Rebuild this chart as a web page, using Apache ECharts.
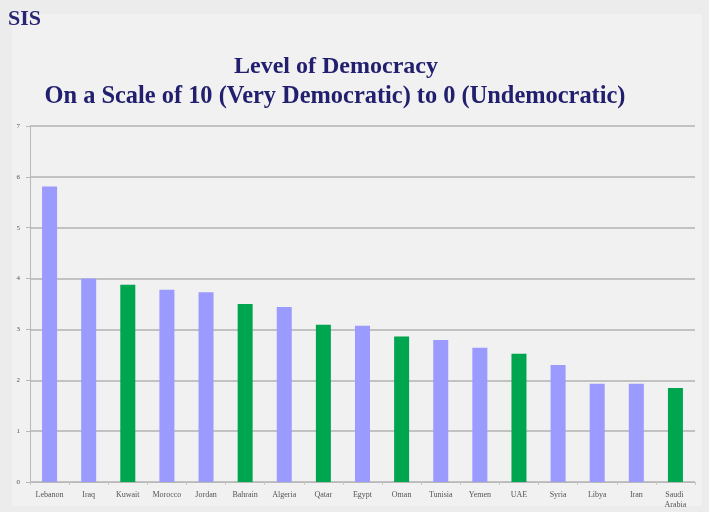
<!DOCTYPE html>
<html>
<head>
<meta charset="utf-8">
<script src="https://cdn.jsdelivr.net/npm/echarts@6/dist/echarts.min.js"></script>
<style>
  html, body { margin: 0; padding: 0; background: #ececec; }
  #chart { width: 709px; height: 512px; }
</style>
</head>
<body>
<div id="chart"></div>
<script>
// Democracy scores for Arab countries, 0 (undemocratic) to 10 (very democratic)
const countries = ['Lebanon', 'Iraq', 'Kuwait', 'Morocco', 'Jordan', 'Bahrain', 'Algeria', 'Qatar',
  'Egypt', 'Oman', 'Tunisia', 'Yemen', 'UAE', 'Syria', 'Libya', 'Iran', 'Saudi Arabia'];
const scores = [5.81, 4.0, 3.88, 3.78, 3.73, 3.5, 3.44, 3.09, 3.07, 2.86, 2.79, 2.64, 2.52, 2.3, 1.93, 1.93, 1.85];
// Gulf Cooperation Council members are drawn in green
const gulfStates = ['Kuwait', 'Bahrain', 'Qatar', 'Oman', 'UAE', 'Saudi Arabia'];
const yTicks = [0, 1, 2, 3, 4, 5, 6, 7];

const titleLines = ['Level of Democracy', 'On a Scale of 10 (Very Democratic) to 0 (Undemocratic)'];

const chart = echarts.init(document.getElementById('chart'), null, { renderer: 'canvas' });

chart.setOption({
  backgroundColor: '#ececec',
  animation: false,
  graphic: [
    {
      type: 'rect', left: 12, top: 14, z: -10,
      shape: { width: 690, height: 492 },
      style: { fill: '#f1f1f1' }
    },
    {
      type: 'text', left: 8, top: 8,
      style: {
        text: 'SIS', fill: '#262673',
        font: 'bold 22px "Liberation Serif", "DejaVu Serif", serif'
      }
    },
    {
      type: 'text', x: 336, y: 55,
      style: {
        text: titleLines[0], fill: '#22206e', align: 'center',
        font: 'bold 24px "Liberation Serif", serif'
      }
    },
    {
      type: 'text', x: 335, y: 85,
      style: {
        text: titleLines[1], fill: '#22206e', align: 'center',
        font: 'bold 24.4px "Liberation Serif", serif'
      }
    }
  ],
  grid: { left: 30, right: 14, top: 126, bottom: 30 },
  xAxis: {
    type: 'category',
    data: countries,
    axisLine: { lineStyle: { color: '#b8b8b8', width: 1 } },
    axisTick: { show: true, alignWithLabel: false, length: 3, lineStyle: { color: '#c8c8c8' } },
    axisLabel: {
      interval: 0, margin: 8, color: '#555',
      fontFamily: '"Liberation Serif", serif', fontSize: 8,
      width: 34, overflow: 'break', lineHeight: 10
    }
  },
  yAxis: {
    type: 'value',
    min: yTicks[0], max: yTicks[yTicks.length - 1], interval: 1,
    axisLine: { show: true, lineStyle: { color: '#b8b8b8' } },
    axisTick: { show: true, length: 4, lineStyle: { color: '#b8b8b8' } },
    axisLabel: {
      margin: 10, color: '#555', fontSize: 7,
      fontFamily: '"Liberation Serif", serif'
    },
    splitLine: { lineStyle: { color: '#c2c2c2', width: 2 } }
  },
  series: [{
    type: 'bar',
    data: scores.map((v, i) => ({
      value: v,
      itemStyle: { color: gulfStates.includes(countries[i]) ? '#00a54f' : '#9a9aff' }
    })),
    barWidth: 15
  }]
});
</script>
</body>
</html>
